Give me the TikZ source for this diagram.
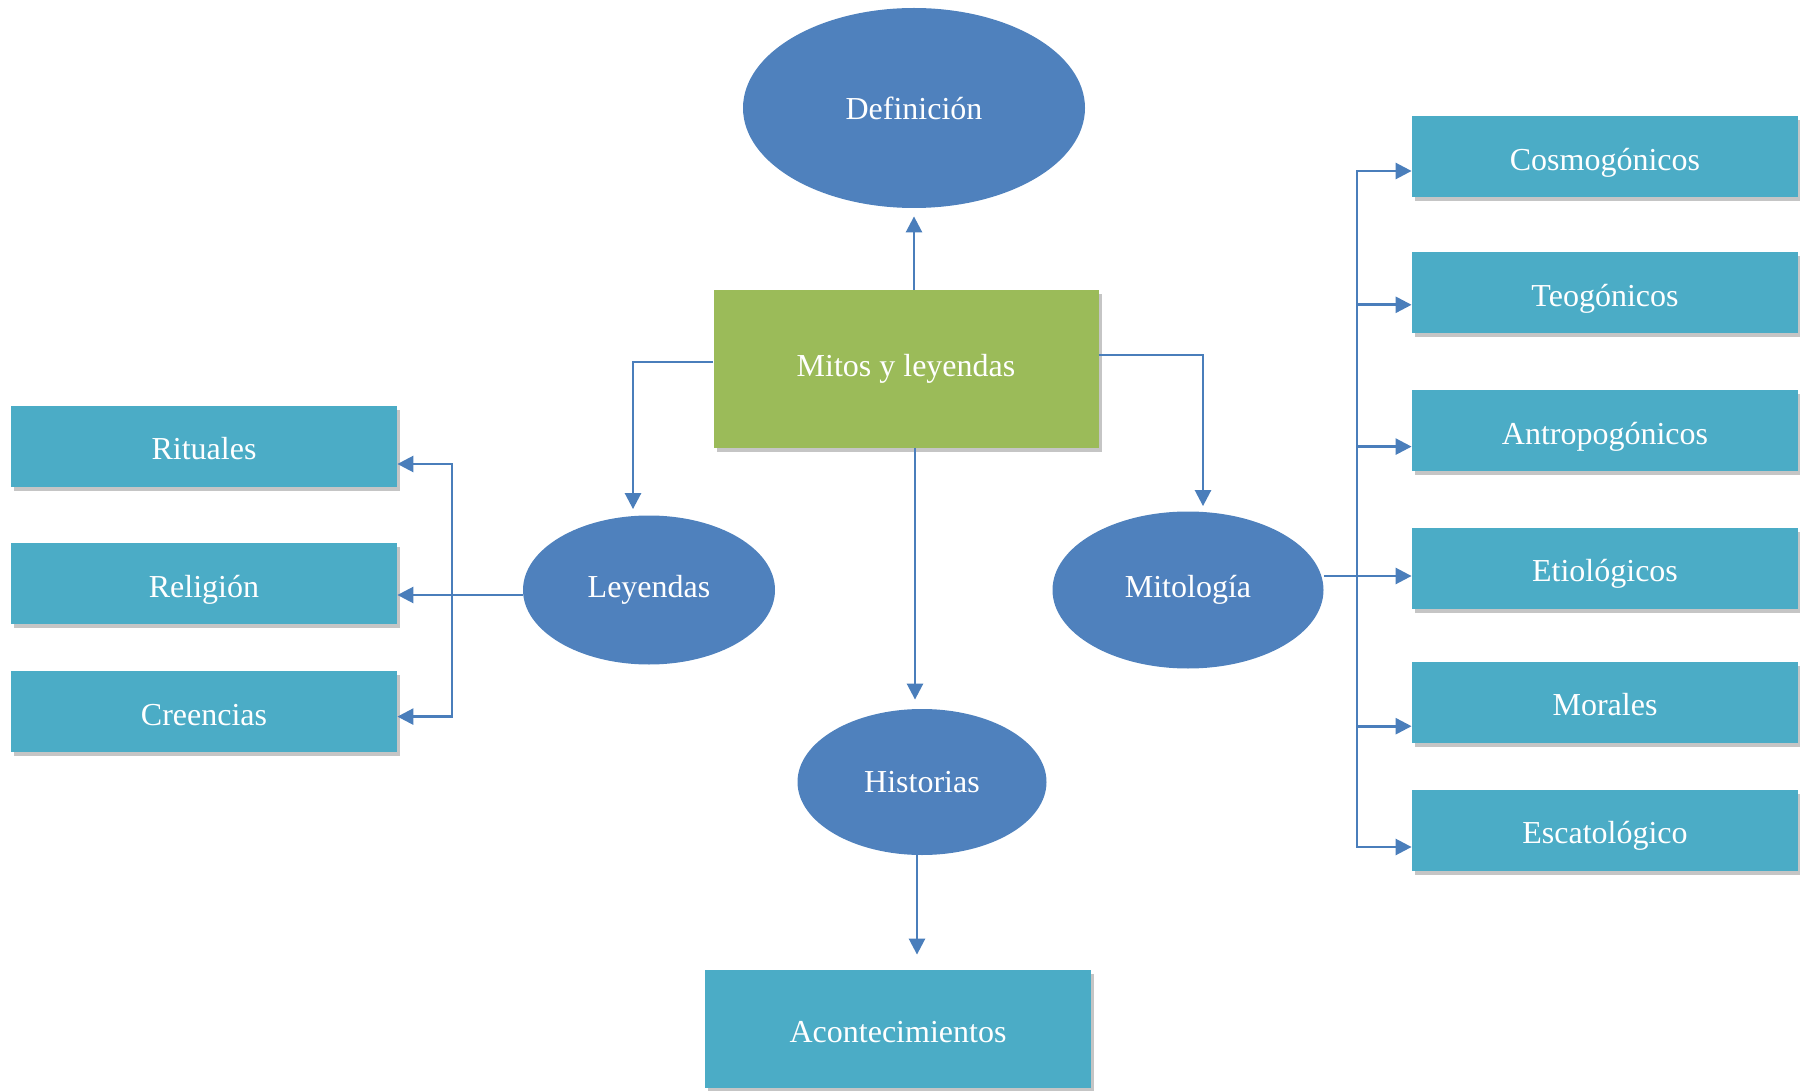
\documentclass[tikz,border=0pt]{standalone}
\usepackage{fontspec}
\setmainfont{Liberation Serif}
\usetikzlibrary{arrows.meta,positioning,shapes.geometric,shadows}
\definecolor{ovalblue}{HTML}{4F81BD}
\definecolor{boxteal}{HTML}{4BACC6}
\definecolor{rootgreen}{HTML}{9BBB59}
\definecolor{linkblue}{HTML}{4A7EBB}

\begin{document}
\begin{tikzpicture}[
  x=0.5pt, y=-0.5pt,
  every node/.style={font=\fontsize{16}{19}\selectfont, text=white},
  topic/.style={ellipse, fill=ovalblue, inner sep=0pt},
  leaf/.style={rectangle, fill=boxteal, minimum width=193pt,
    minimum height=40.5pt, text height=15.5pt, text depth=2pt,
    drop shadow={shadow xshift=1.5pt, shadow yshift=-2pt, fill=black!45, opacity=0.5}},
  root/.style={rectangle, fill=rootgreen, minimum width=192.5pt,
    minimum height=79pt,
    drop shadow={shadow xshift=1.5pt, shadow yshift=-2pt, fill=black!45, opacity=0.5}},
  link/.style={-{Triangle[length=8pt,width=8pt]}, draw=linkblue, line width=1.3pt}
]
  \useasboundingbox (0,0) rectangle (1800,1091);

  \node[root] (mitos) at (906,369) {Mitos y leyendas};
  \node[topic, minimum width=171pt, minimum height=100pt] (definicion) at (914,108) {Definición};
  \node[topic, minimum width=126pt, minimum height=74.5pt] (leyendas) at (649,590) {Leyendas};
  \node[topic, minimum width=135.5pt, minimum height=78.5pt] (mitologia) at (1188,590) {Mitología};
  \node[topic, minimum width=124.5pt, minimum height=73pt] (historias) at (922,782) {Historias};
  \node[leaf, minimum height=59pt] (aconte) at (898,1029) {Acontecimientos};

  % left column
  \node[leaf] (rituales) at (204,446) {Rituales};
  \node[leaf, below=28pt of rituales] (religion) {Religión};
  \node[leaf, below=23pt of religion] (creencias) {Creencias};

  % right column
  \node[leaf] (cosmo) at (1605,157) {Cosmogónicos};
  \node[leaf, below=27pt of cosmo] (teo) {Teogónicos};
  \node[leaf, below=28pt of teo] (antro) {Antropogónicos};
  \node[leaf, below=28pt of antro] (etio) {Etiológicos};
  \node[leaf, below=26pt of etio] (morales) {Morales};
  \node[leaf, below=23pt of morales] (escato) {Escatológico};

  \coordinate (lfork) at (452,595);
  \coordinate (rfork) at (1357,576);

  \draw[link, shorten >=4pt] (definicion.south |- mitos.north) -- (definicion.south);
  \draw[link, shorten >=4.5pt] ([xshift=4.5pt]mitos.south) -- ([xshift=4.5pt]mitos.south |- historias.north);
  \draw[link, shorten >=7.5pt] ([xshift=-2.5pt]historias.south) -- ([xshift=-2.5pt]historias.south |- aconte.north);
  \draw[link, shorten >=3pt] ([yshift=3.5pt]mitos.west) -| ([xshift=-8pt]leyendas.north);
  \draw[link, shorten >=2.5pt] ([yshift=7pt]mitos.east) -| ([xshift=7.5pt]mitologia.north);

  \draw[link] ([yshift=-2.5pt]leyendas.west) -- ([yshift=-2.5pt]leyendas.west -| religion.east);
  \draw[link] (lfork) |- ([yshift=-9pt]rituales.east);
  \draw[link] (lfork) |- ([yshift=-2.5pt]creencias.east);

  \draw[link] ([yshift=7pt]mitologia.east) -- ([yshift=7pt]mitologia.east -| etio.west);
  \foreach \leaf/\dy in {cosmo/-7pt, teo/-6pt, antro/-8pt, morales/-12pt, escato/-8.5pt}
    \draw[link] (rfork) |- ([yshift=\dy]\leaf.west);
\end{tikzpicture}
\end{document}
